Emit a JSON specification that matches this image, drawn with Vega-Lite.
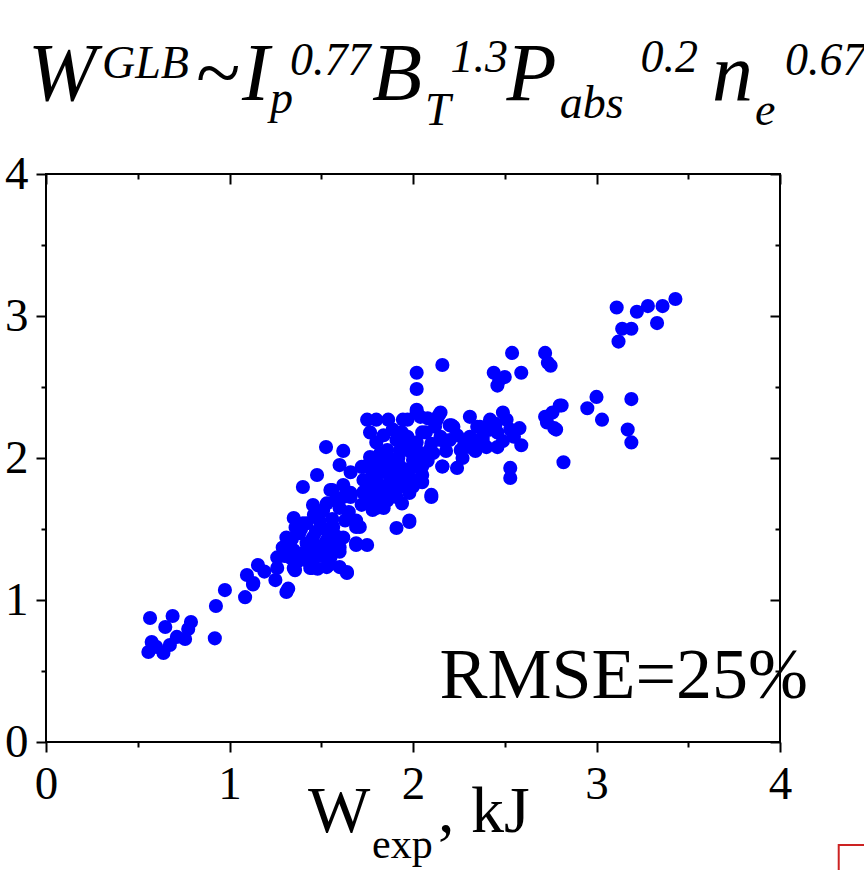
{
  "$schema": "https://vega.github.io/schema/vega-lite/v6.json",
  "width": 734,
  "height": 568,
  "autosize": {"type": "none"},
  "padding": {"left": 46, "top": 174, "right": 84, "bottom": 128},
  "background": "white",
  "config": {
    "view": {"stroke": "black", "strokeWidth": 2},
    "axis": {"domain": false, "grid": false, "tickColor": "black", "tickWidth": 2, "labelFont": "Liberation Serif", "labelFontSize": 47, "labelColor": "black", "title": null}
  },
  "datasets": {
    "pts": [
      {"x":0.567,"y":0.873},{"x":0.69,"y":0.887},{"x":0.65,"y":0.81},{"x":0.79,"y":0.845},{"x":0.775,"y":0.796},
      {"x":0.576,"y":0.704},{"x":0.558,"y":0.634},{"x":0.64,"y":0.627},{"x":0.675,"y":0.683},{"x":0.60,"y":0.67},
      {"x":0.758,"y":0.725},{"x":0.713,"y":0.74},{"x":0.92,"y":0.73},{"x":0.926,"y":0.958},{"x":0.975,"y":1.07},
      {"x":1.085,"y":1.02},{"x":1.13,"y":1.12},{"x":1.25,"y":1.14},{"x":1.31,"y":1.056},{"x":1.32,"y":1.08},
      {"x":1.095,"y":1.176},{"x":1.128,"y":1.11},{"x":1.155,"y":1.246},{"x":1.19,"y":1.20},{"x":1.26,"y":1.225},
      {"x":1.35,"y":1.225},{"x":1.31,"y":1.387},{"x":1.35,"y":1.577},{"x":1.40,"y":1.54},{"x":1.45,"y":1.225},
      {"x":1.54,"y":1.246},{"x":1.64,"y":1.197},{"x":1.60,"y":1.232},{"x":1.69,"y":1.387},{"x":1.75,"y":1.387},
      {"x":1.71,"y":1.514},{"x":1.80,"y":1.648},{"x":1.73,"y":1.754},{"x":1.40,"y":1.796},{"x":1.455,"y":1.669},
      {"x":1.55,"y":1.775},{"x":1.62,"y":1.725},{"x":1.66,"y":1.754},{"x":1.526,"y":2.077},{"x":1.62,"y":2.05},
      {"x":1.60,"y":1.95},{"x":1.66,"y":1.90},{"x":1.477,"y":1.88},{"x":1.56,"y":1.775},{"x":1.62,"y":1.81},
      {"x":1.66,"y":1.725},{"x":1.53,"y":1.68},{"x":1.60,"y":1.648},{"x":1.72,"y":1.937},{"x":1.766,"y":2.007},
      {"x":1.75,"y":1.775},{"x":1.78,"y":1.68},{"x":1.42,"y":1.54},{"x":1.49,"y":1.56},{"x":1.565,"y":1.514},
      {"x":1.63,"y":1.56},{"x":1.69,"y":1.514},{"x":1.31,"y":1.44},{"x":1.38,"y":1.47},{"x":1.455,"y":1.44},
      {"x":1.53,"y":1.42},{"x":1.60,"y":1.37},{"x":1.69,"y":1.40},{"x":1.29,"y":1.37},{"x":1.33,"y":1.30},
      {"x":1.40,"y":1.33},{"x":1.477,"y":1.33},{"x":1.55,"y":1.30},{"x":1.60,"y":1.34},{"x":1.357,"y":1.21},
      {"x":1.44,"y":1.225},{"x":1.53,"y":1.232},{"x":1.64,"y":1.19},{"x":1.30,"y":1.31},{"x":1.37,"y":1.27},
      {"x":1.45,"y":1.28},{"x":1.50,"y":1.38},{"x":1.42,"y":1.40},{"x":1.35,"y":1.35},{"x":1.47,"y":1.48},
      {"x":1.52,"y":1.36},{"x":1.58,"y":1.45},{"x":1.56,"y":1.57},{"x":1.52,"y":1.50},{"x":1.43,"y":1.27},
      {"x":1.48,"y":1.22},{"x":1.39,"y":1.50},{"x":1.34,"y":1.43},{"x":1.44,"y":1.36},{"x":1.50,"y":1.31},
      {"x":1.57,"y":1.38},{"x":1.62,"y":1.44},{"x":1.46,"y":1.60},{"x":1.51,"y":1.63},{"x":1.58,"y":1.70},
      {"x":1.36,"y":1.51},{"x":1.26,"y":1.30},{"x":1.65,"y":1.62},
      {"x":1.75,"y":2.27},{"x":1.80,"y":2.27},{"x":1.865,"y":2.27},{"x":1.766,"y":2.18},{"x":1.80,"y":2.11},
      {"x":1.86,"y":2.056},{"x":1.91,"y":2.127},{"x":1.97,"y":2.27},{"x":2.02,"y":2.32},{"x":2.08,"y":2.28},
      {"x":2.14,"y":2.30},{"x":1.97,"y":2.105},{"x":2.02,"y":2.11},{"x":2.09,"y":2.056},{"x":2.15,"y":2.15},
      {"x":1.74,"y":1.94},{"x":1.80,"y":1.97},{"x":1.875,"y":1.94},{"x":1.93,"y":1.94},{"x":2.0,"y":1.986},
      {"x":2.05,"y":1.94},{"x":2.16,"y":1.94},{"x":1.73,"y":1.845},{"x":1.80,"y":1.845},{"x":1.875,"y":1.845},
      {"x":1.945,"y":1.82},{"x":2.02,"y":1.845},{"x":1.73,"y":1.76},{"x":1.80,"y":1.754},{"x":1.86,"y":1.70},
      {"x":1.91,"y":1.725},{"x":1.98,"y":1.754},{"x":2.10,"y":1.725},{"x":1.78,"y":1.634},{"x":1.84,"y":1.648},
      {"x":1.69,"y":1.56},{"x":1.91,"y":1.507},{"x":1.98,"y":1.55},{"x":1.85,"y":1.90},{"x":1.90,"y":1.88},
      {"x":1.95,"y":1.90},{"x":1.83,"y":1.80},{"x":1.88,"y":1.78},{"x":1.96,"y":1.85},{"x":2.05,"y":1.88},
      {"x":1.92,"y":2.00},{"x":1.87,"y":2.00},{"x":1.83,"y":1.95},{"x":1.78,"y":1.90},{"x":1.98,"y":2.05},
      {"x":2.05,"y":2.02},{"x":2.07,"y":2.18},{"x":2.12,"y":2.22},{"x":2.10,"y":2.10},{"x":1.93,"y":1.80},
      {"x":1.77,"y":1.80},{"x":1.76,"y":1.72},{"x":1.72,"y":1.67},{"x":1.84,"y":2.16},{"x":1.89,"y":2.20},
      {"x":1.94,"y":2.18},{"x":1.82,"y":2.03},{"x":1.90,"y":1.96},{"x":1.99,"y":1.93},{"x":2.08,"y":1.98},
      {"x":1.86,"y":1.75},{"x":1.82,"y":1.70},{"x":1.94,"y":1.68},{"x":2.00,"y":1.80},
      {"x":2.02,"y":2.60},{"x":2.02,"y":2.486},{"x":2.16,"y":2.655},{"x":2.54,"y":2.74},{"x":2.72,"y":2.74},
      {"x":2.735,"y":2.67},{"x":2.44,"y":2.60},{"x":2.47,"y":2.55},{"x":2.50,"y":2.57},{"x":2.46,"y":2.51},
      {"x":2.59,"y":2.60},{"x":2.02,"y":2.34},{"x":2.15,"y":2.32},{"x":2.31,"y":2.29},{"x":2.21,"y":2.23},
      {"x":2.49,"y":2.32},{"x":2.51,"y":2.27},{"x":2.58,"y":2.21},{"x":2.59,"y":2.09},{"x":2.42,"y":2.27},
      {"x":2.35,"y":2.22},{"x":2.31,"y":2.15},{"x":2.38,"y":2.127},{"x":2.46,"y":2.077},{"x":2.42,"y":2.20},
      {"x":2.53,"y":2.20},{"x":2.73,"y":2.29},{"x":2.80,"y":2.37},{"x":2.77,"y":2.21},{"x":2.95,"y":2.35},
      {"x":3.0,"y":2.43},{"x":2.82,"y":1.97},{"x":2.53,"y":1.93},{"x":2.53,"y":1.86},{"x":2.10,"y":1.74},
      {"x":1.98,"y":1.56},{"x":1.945,"y":2.27},{"x":2.04,"y":2.29},{"x":2.13,"y":2.27},{"x":2.20,"y":2.23},
      {"x":1.97,"y":2.15},{"x":2.05,"y":2.18},{"x":2.15,"y":2.127},{"x":2.20,"y":2.127},{"x":1.93,"y":2.056},
      {"x":2.02,"y":2.056},{"x":2.11,"y":2.035},{"x":2.26,"y":2.056},{"x":2.16,"y":1.94},{"x":2.24,"y":1.93},
      {"x":2.04,"y":1.94},{"x":1.97,"y":1.90},{"x":2.05,"y":1.83},{"x":1.97,"y":1.80},{"x":2.75,"y":2.65},
      {"x":2.365,"y":2.22},{"x":2.42,"y":2.25},{"x":2.38,"y":2.15},{"x":2.46,"y":2.18},{"x":2.33,"y":2.127},
      {"x":2.40,"y":2.077},{"x":2.31,"y":2.077},{"x":2.55,"y":2.15},{"x":2.22,"y":2.22},{"x":2.28,"y":2.10},
      {"x":2.34,"y":2.05},{"x":2.27,"y":2.00},{"x":2.18,"y":2.05},{"x":2.24,"y":2.16},{"x":2.45,"y":2.24},
      {"x":2.49,"y":2.12},
      {"x":3.11,"y":3.06},{"x":3.22,"y":3.03},{"x":3.28,"y":3.07},{"x":3.36,"y":3.07},{"x":3.43,"y":3.12},
      {"x":3.33,"y":2.95},{"x":3.14,"y":2.91},{"x":3.19,"y":2.91},{"x":3.12,"y":2.82},{"x":3.19,"y":2.415},
      {"x":3.17,"y":2.20},{"x":3.19,"y":2.11},{"x":3.03,"y":2.27},{"x":2.81,"y":2.37},{"x":2.76,"y":2.32},
      {"x":2.72,"y":2.29},{"x":2.73,"y":2.25},{"x":2.78,"y":2.20}
    ],
    "titleMain": [
      {"t":"W","x":-0.098,"y":4.521},{"t":"~","x":0.812,"y":4.521},{"t":"I","x":1.068,"y":4.521},
      {"t":"B","x":1.777,"y":4.521},{"t":"P","x":2.51,"y":4.521},{"t":"n","x":3.63,"y":4.521}
    ],
    "titleScript": [
      {"t":"GLB","x":0.305,"y":4.676},{"t":"p","x":1.221,"y":4.43},{"t":"0.77","x":1.33,"y":4.697},
      {"t":"T","x":2.065,"y":4.345},{"t":"1.3","x":2.205,"y":4.718},{"t":"abs","x":2.80,"y":4.394},
      {"t":"0.2","x":3.24,"y":4.718},{"t":"e","x":3.864,"y":4.345},{"t":"0.67","x":4.027,"y":4.697}
    ],
    "xTitleBig": [{"t":"W","x":1.428,"y":-0.634},{"t":", kJ","x":2.136,"y":-0.634}],
    "xTitleSub": [{"t":"exp","x":1.777,"y":-0.817}],
    "note": [{"t":"RMSE=25%","x":4.153,"y":0.31}],
    "box": [{"x":4.32,"x2":4.6,"y":-0.725,"y2":-1.2}]
  },
  "layer": [
    {
      "data": {"name": "pts"},
      "mark": {"type": "point", "opacity": 0},
      "encoding": {
        "x": {"field": "x", "type": "quantitative", "scale": {"domain": [0, 4], "nice": false, "zero": false},
          "axis": {"orient": "top", "values": [0,0.5,1,1.5,2,2.5,3,3.5,4], "labels": false,
            "tickSize": {"condition": {"test": "datum.value % 1 === 0", "value": -10}, "value": -5}}},
        "y": {"field": "y", "type": "quantitative", "scale": {"domain": [0, 4], "nice": false, "zero": false},
          "axis": {"orient": "right", "values": [0,0.5,1,1.5,2,2.5,3,3.5,4], "labels": false,
            "tickSize": {"condition": {"test": "datum.value % 1 === 0", "value": -10}, "value": -5}}}
      }
    },
    {
      "data": {"name": "pts"},
      "mark": {"type": "circle", "size": 200, "color": "#0000ff", "opacity": 1},
      "encoding": {
        "x": {"field": "x", "type": "quantitative",
          "axis": {"orient": "bottom", "values": [0,0.5,1,1.5,2,2.5,3,3.5,4], "labelPadding": 9, "labelFlush": false, "labelOverlap": false,
            "labelExpr": "datum.value % 1 === 0 ? format(datum.value, 'd') : ''",
            "tickSize": {"condition": {"test": "datum.value % 1 === 0", "value": 10}, "value": 5}}},
        "y": {"field": "y", "type": "quantitative",
          "axis": {"orient": "left", "values": [0,0.5,1,1.5,2,2.5,3,3.5,4], "labelPadding": 8, "labelFlush": false, "labelOverlap": false,
            "labelExpr": "datum.value % 1 === 0 ? format(datum.value, 'd') : ''",
            "tickSize": {"condition": {"test": "datum.value % 1 === 0", "value": 10}, "value": 5}}}
      }
    },
    {
      "data": {"name": "titleMain"},
      "mark": {"type": "text", "font": "Liberation Serif", "fontStyle": "italic", "fontSize": 82, "align": "left", "baseline": "alphabetic", "color": "black"},
      "encoding": {"x": {"field": "x", "type": "quantitative", "axis": null}, "y": {"field": "y", "type": "quantitative", "axis": null}, "text": {"field": "t"}}
    },
    {
      "data": {"name": "titleScript"},
      "mark": {"type": "text", "font": "Liberation Serif", "fontStyle": "italic", "fontSize": 46, "align": "left", "baseline": "alphabetic", "color": "black"},
      "encoding": {"x": {"field": "x", "type": "quantitative", "axis": null}, "y": {"field": "y", "type": "quantitative", "axis": null}, "text": {"field": "t"}}
    },
    {
      "data": {"name": "xTitleBig"},
      "mark": {"type": "text", "font": "Liberation Serif", "fontSize": 66, "align": "left", "baseline": "alphabetic", "color": "black"},
      "encoding": {"x": {"field": "x", "type": "quantitative", "axis": null}, "y": {"field": "y", "type": "quantitative", "axis": null}, "text": {"field": "t"}}
    },
    {
      "data": {"name": "xTitleSub"},
      "mark": {"type": "text", "font": "Liberation Serif", "fontSize": 42, "align": "left", "baseline": "alphabetic", "color": "black"},
      "encoding": {"x": {"field": "x", "type": "quantitative", "axis": null}, "y": {"field": "y", "type": "quantitative", "axis": null}, "text": {"field": "t"}}
    },
    {
      "data": {"name": "note"},
      "mark": {"type": "text", "font": "Liberation Serif", "fontSize": 72, "align": "right", "baseline": "alphabetic", "color": "black"},
      "encoding": {"x": {"field": "x", "type": "quantitative", "axis": null}, "y": {"field": "y", "type": "quantitative", "axis": null}, "text": {"field": "t"}}
    },
    {
      "data": {"name": "box"},
      "mark": {"type": "rect", "fill": null, "stroke": "#cc2222", "strokeWidth": 2},
      "encoding": {"x": {"field": "x", "type": "quantitative", "axis": null}, "x2": {"field": "x2"}, "y": {"field": "y", "type": "quantitative", "axis": null}, "y2": {"field": "y2"}}
    }
  ],
  "resolve": {"axis": {"x": "independent", "y": "independent"}}
}
